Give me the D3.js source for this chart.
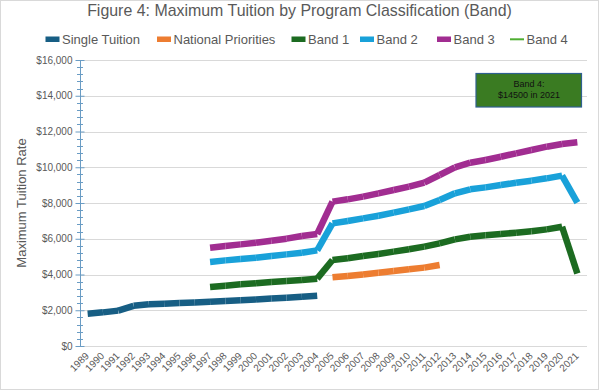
<!DOCTYPE html>
<html>
<head>
<meta charset="utf-8">
<script src="https://cdn.jsdelivr.net/npm/d3@7/dist/d3.min.js"></script>
<style>
  html, body { margin: 0; padding: 0; background: #fff; }
  svg { display: block; font-family: "Liberation Sans", Arial, sans-serif; }
</style>
</head>
<body>
<svg id="chart" width="600" height="391"></svg>
<script>
// ---- Data ----
const years = d3.range(1989, 2022).map(String);

const singleTuitionYears = d3.range(1989, 2005).map(String);
const singleTuition = [1800, 1882, 1980, 2250, 2330, 2365, 2400, 2440, 2480, 2520, 2565, 2605, 2655, 2700, 2750, 2810];

const nationalPrioritiesYears = d3.range(2005, 2013).map(String);
const nationalPriorities = [3840, 3915, 4005, 4100, 4195, 4290, 4385, 4530];

const bandYears = d3.range(1997, 2022).map(String);
const band1 = [3300, 3375, 3450, 3505, 3580, 3635, 3690, 3768,
               4810, 4905, 5035, 5150, 5280, 5410, 5560, 5745, 5965, 6115, 6190, 6265, 6340, 6415, 6525, 6675, 4060];
const band2 = [4700, 4790, 4865, 4940, 5035, 5125, 5220, 5350,
               6860, 6990, 7140, 7290, 7460, 7645, 7830, 8170, 8540, 8765, 8875, 9005, 9135, 9250, 9380, 9530, 8020];
const band3 = [5500, 5595, 5685, 5780, 5890, 6005, 6155, 6265,
               8075, 8205, 8355, 8540, 8725, 8915, 9140, 9565, 9995, 10255, 10405, 10590, 10780, 10965, 11150, 11300, 11395];

const yTicks = [0, 2000, 4000, 6000, 8000, 10000, 12000, 14000, 16000];

const seriesNames = ["Single Tuition", "National Priorities", "Band 1", "Band 2", "Band 3", "Band 4"];
const seriesColors = ["#175e84", "#ed7d31", "#1c6b21", "#19a1d9", "#a12d91", "#4fae32"];

const titleText = "Figure 4: Maximum Tuition by Program Classification (Band)";
const yAxisTitle = "Maximum Tuition Rate";
const noteLines = ["Band 4:", "$14500 in 2021"];

// ---- Chart ----
const svg = d3.select("#chart");
const W = 600, H = 391;
const plotL = 80, plotR = 585, plotT = 60, plotB = 346;
const textColor = "#595959";

svg.append("rect").attr("x", 0.5).attr("y", 0.5).attr("width", W - 2).attr("height", H - 2)
  .attr("fill", "#fff").attr("stroke", "#d9d9d9").attr("stroke-width", 1);

const x = d3.scaleBand().domain(years).range([plotL, plotR]).padding(0);
const y = d3.scaleLinear().domain([0, 16000]).range([plotB, plotT]);
const cx = d => x(d) + x.bandwidth() / 2;

// gridlines
svg.append("g").selectAll("line").data(yTicks.filter(t => t > 0)).join("line")
  .attr("x1", plotL).attr("x2", plotR + 2)
  .attr("y1", d => Math.round(y(d)) + 0.5).attr("y2", d => Math.round(y(d)) + 0.5)
  .attr("stroke", "#d9d9d9").attr("stroke-width", 1);

// x axis (baseline)
const xAxis = d3.axisBottom(x).tickSize(0).tickPadding(0);
const gx = svg.append("g").attr("transform", `translate(0,${Math.round(plotB) + 0.5})`).call(xAxis);
gx.select(".domain").attr("stroke", "#d9d9d9").attr("d", `M${plotL},0H${plotR + 2}`);
gx.selectAll(".tick text")
  .attr("fill", textColor)
  .attr("font-size", "10px")
  .attr("text-anchor", "end")
  .attr("dy", null)
  .attr("y", 0)
  .attr("transform", "translate(2,10) rotate(-45)");

// y axis
const axisColor = "#6a9cc4";
const minor = d3.range(0, 16001, 400).filter(v => v % 2000 !== 0);
const gyMinor = svg.append("g");
gyMinor.selectAll("line").data(minor).join("line")
  .attr("x1", plotL - 3).attr("x2", plotL + 3)
  .attr("y1", d => Math.round(y(d)) + 0.5).attr("y2", d => Math.round(y(d)) + 0.5)
  .attr("stroke", axisColor);

const yAxis = d3.axisLeft(y).tickValues(yTicks).tickSize(5).tickPadding(3)
  .tickFormat(d => "$" + d3.format(",")(d));
const gy = svg.append("g").attr("transform", `translate(${plotL + 0.5},0)`).call(yAxis);
gy.select(".domain").attr("stroke", axisColor).attr("d", `M0,${plotT}V${plotB + 0.5}`);
gy.selectAll(".tick line").attr("stroke", axisColor).attr("x2", -5).attr("x1", 4);
gy.selectAll(".tick text").attr("fill", textColor).attr("font-size", "10px");

// y axis title
svg.append("text")
  .attr("transform", `translate(26,${(plotT + plotB) / 2}) rotate(-90)`)
  .attr("text-anchor", "middle")
  .attr("fill", textColor).attr("font-size", "13px")
  .text(yAxisTitle);

// series
const series = [
  { name: seriesNames[0], color: seriesColors[0], yrs: singleTuitionYears, vals: singleTuition },
  { name: seriesNames[1], color: seriesColors[1], yrs: nationalPrioritiesYears, vals: nationalPriorities },
  { name: seriesNames[2], color: seriesColors[2], yrs: bandYears, vals: band1 },
  { name: seriesNames[3], color: seriesColors[3], yrs: bandYears, vals: band2 },
  { name: seriesNames[4], color: seriesColors[4], yrs: bandYears, vals: band3 }
];
const gLines = svg.append("g");
series.forEach(s => {
  const pts = s.yrs.map((yr, i) => [cx(yr), y(s.vals[i])]);
  const segs = d3.pairs(pts);
  gLines.append("g").selectAll("line").data(segs).join("line")
    .attr("x1", d => d[0][0]).attr("y1", d => d[0][1])
    .attr("x2", d => d[1][0]).attr("y2", d => d[1][1])
    .attr("stroke", s.color).attr("stroke-width", 6.5).attr("stroke-linecap", "butt");
});

// annotation box (Band 4)
const note = svg.append("g");
note.append("rect").attr("x", 476).attr("y", 73.5).attr("width", 105.5).attr("height", 33.5)
  .attr("fill", "#3a7b22").attr("stroke", "#2f6090").attr("stroke-width", 1.2);
note.selectAll("text").data(noteLines).join("text")
  .attr("x", 529).attr("y", (d, i) => 86.5 + i * 11.5)
  .attr("text-anchor", "middle").attr("font-size", "9px").attr("fill", "#111")
  .text(d => d);

// title
const title = svg.append("text").attr("x", 299.5).attr("y", 15.5)
  .attr("text-anchor", "middle").attr("fill", textColor).attr("font-size", "17px")
  .text(titleText);
const tl = title.node().getComputedTextLength();
title.attr("font-size", (17 * 425 / tl).toFixed(2) + "px");

// legend
const legendX = [45.5, 157, 291.5, 360, 437, 510];
const legend = svg.append("g");
seriesNames.forEach((n, i) => {
  const g = legend.append("g").attr("transform", `translate(${legendX[i]},0)`);
  if (i < 5) {
    g.append("rect").attr("x", 0).attr("y", 36.5).attr("width", 14).attr("height", 5.5).attr("fill", seriesColors[i]);
  } else {
    g.append("line").attr("x1", 0).attr("x2", 14).attr("y1", 39.3).attr("y2", 39.3)
      .attr("stroke", seriesColors[i]).attr("stroke-width", 2);
  }
  g.append("text").attr("x", 16.5).attr("y", 43.8).attr("font-size", "13px").attr("fill", textColor).text(n);
});
</script>
</body>
</html>
